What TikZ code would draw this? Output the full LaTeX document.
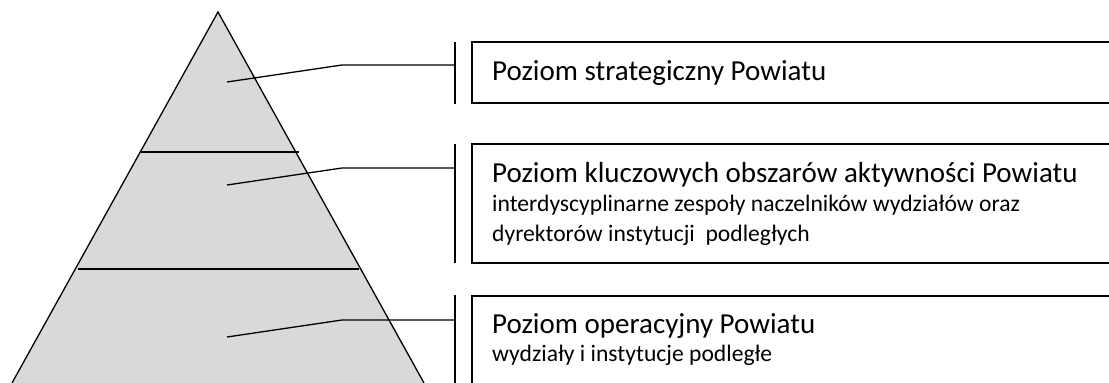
\documentclass[tikz,border=0pt]{standalone}
\usepackage{fontspec}
\setmainfont{Carlito}
\newcommand{\ttlsize}{\fontsize{29}{29.5}\selectfont}
\newcommand{\subsize}{\fontsize{23.6}{29.5}\selectfont}
\begin{document}
\begin{tikzpicture}[x=1pt,y=-1pt,
  pyr/.style={draw=black,line width=1.3pt,fill=pyrgray},
  tier/.style={draw=black,line width=1.3pt},
  leader/.style={draw=black,line width=1.3pt},
  bar/.style={draw=black,line width=1.6pt},
  lvlbox/.style={draw=black,line width=1.8pt},
  lvltext/.style={anchor=base west,inner sep=0pt,align=left,font=\ttlsize}]
\definecolor{pyrgray}{RGB}{217,217,217}
\useasboundingbox (0,0) rectangle (1109,383);
\begin{scope}
\clip (0,0) rectangle (1109,383);
% pyramid
\coordinate (apex) at (218,12);
\coordinate (bl) at (12,383);
\coordinate (br) at (424,383);
\path[pyr] (bl) -- (apex) -- (br);
\draw[tier] (141,152) -- (299,152);
\draw[tier] (78,269) -- (359,269);
% leaders
\coordinate (p1) at (227,82); \coordinate (k1) at (342,65); \coordinate (e1) at (455,65);
\coordinate (p2) at (227,185); \coordinate (k2) at (342,168); \coordinate (e2) at (455,168);
\coordinate (p3) at (227,337); \coordinate (k3) at (342,320); \coordinate (e3) at (455,320);
\draw[leader] (p1) -- (k1) -- (e1);
\draw[leader] (p2) -- (k2) -- (e2);
\draw[leader] (p3) -- (k3) -- (e3);
% bars
\draw[bar] (455,42) -- (455,104);
\draw[bar] (455,144) -- (455,263);
\draw[bar] (455,295) -- (455,390);
% boxes
\draw[lvlbox] (472,42) rectangle (1120,103);
\draw[lvlbox] (472,144) rectangle (1120,263);
\draw[lvlbox] (472,296) rectangle (1120,400);
\end{scope}
% texts (base anchor = baseline of the last line)
\node[lvltext] (t1) at (492,80) {Poziom strategiczny Powiatu};
\node[lvltext] (t2) at (492,241) {Poziom kluczowych obszarów aktywności Powiatu\\
  \subsize interdyscyplinarne zespoły naczelników wydziałów oraz\\
  \subsize dyrektorów instytucji\ \ podległych};
\node[lvltext] (t3) at (492,361) {Poziom operacyjny Powiatu\\[-2pt]
  \subsize wydziały i instytucje podległe};
\end{tikzpicture}
\end{document}
